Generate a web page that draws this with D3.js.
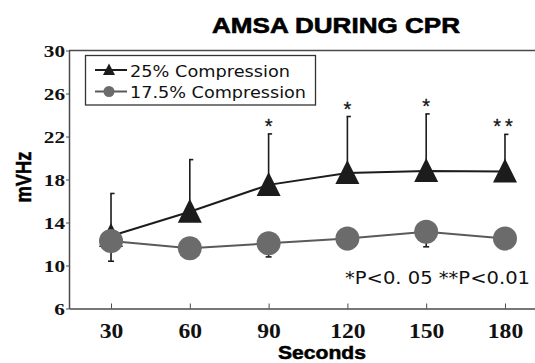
<!DOCTYPE html>
<html>
<head>
<meta charset="utf-8">
<script src="https://cdn.jsdelivr.net/npm/d3@7"></script>
<style>
  html, body { margin: 0; padding: 0; background: #fff; }
  svg { display: block; }
</style>
</head>
<body>
<svg id="chart" width="535" height="363"></svg>
<script>
// --- Daten ---
const seconds      = [30, 60, 90, 120, 150, 180];
const comp25       = [12.75, 15.0, 17.5, 18.6, 18.8, 18.75];
const comp25Upper  = [16.7, 19.85, 22.24, 23.86, 24.1, 22.2];
const comp175      = [12.27, 11.6, 12.06, 12.52, 13.14, 12.52];
const comp175Lower = [10.4, 10.7, 10.8, 11.5, 11.74, 11.5];
const signif       = ['', '', '*', '*', '*', '**'];
const yTicks       = [6, 10, 14, 18, 22, 26, 30];
const legendLabels = ['25% Compression', '17.5% Compression'];

const svg = d3.select('#chart');

const x = d3.scaleLinear().domain([14, 196]).range([69, 547]);
const y = d3.scaleLinear().domain([6, 30]).range([308.5, 50.5]);

const AXIS = '#4a4a4a';
const DARK = '#1c1c1c';
const GRAY = '#6b6b6b';
const SANS = '"Liberation Sans", Arial, sans-serif';
const WIDE = '"DejaVu Sans", Verdana, sans-serif';
const SERIF = '"Liberation Serif", "Times New Roman", serif';

// Rahmen (oben + rechts)
svg.append('path')
  .attr('d', `M${x.range()[0]},${y(30)}H${x.range()[1]}V${y(6)}`)
  .attr('fill', 'none')
  .attr('stroke', AXIS)
  .attr('stroke-width', 1.5);

// --- Y-Achse ---
const yAxis = svg.append('g')
  .attr('transform', `translate(${x.range()[0]},0)`)
  .call(d3.axisLeft(y).tickValues(yTicks).tickSize(3).tickSizeOuter(0));
yAxis.select('.domain').attr('stroke', AXIS).attr('stroke-width', 1.5);
yAxis.selectAll('line').attr('stroke', AXIS);
yAxis.selectAll('text')
  .attr('x', 0).attr('dy', '0.34em')
  .attr('transform', 'translate(-4,0) scale(1.25,1)')
  .attr('font-family', SERIF)
  .attr('font-weight', 'bold')
  .attr('font-size', 17)
  .attr('fill', '#111');

// --- X-Achse ---
const xAxis = svg.append('g')
  .attr('transform', `translate(0,${y(6)})`)
  .call(d3.axisBottom(x).tickValues(seconds).tickSize(-5).tickSizeOuter(0));
xAxis.select('.domain').attr('stroke', AXIS).attr('stroke-width', 1.5);
xAxis.selectAll('line').attr('stroke', AXIS);
xAxis.selectAll('text')
  .attr('y', 0).attr('dy', 0)
  .attr('transform', 'translate(0,29) scale(1.18,1)')
  .attr('font-family', SERIF)
  .attr('font-weight', 'bold')
  .attr('font-size', 20)
  .attr('fill', '#111');

// --- Titel & Achsentitel ---
svg.append('text')
  .attr('x', 336).attr('y', 33)
  .attr('text-anchor', 'middle')
  .attr('font-family', SANS)
  .attr('font-weight', 'bold')
  .attr('font-size', 22)
  .attr('stroke', '#000').attr('stroke-width', 0.6)
  .attr('textLength', 248).attr('lengthAdjust', 'spacingAndGlyphs')
  .text('AMSA DURING CPR');

svg.append('text')
  .attr('transform', 'translate(31,177) rotate(-90)')
  .attr('text-anchor', 'middle')
  .attr('font-family', SANS)
  .attr('font-weight', 'bold')
  .attr('font-size', 22)
  .attr('stroke', '#000').attr('stroke-width', 0.5)
  .attr('textLength', 51).attr('lengthAdjust', 'spacingAndGlyphs')
  .text('mVHz');

svg.append('text')
  .attr('x', 322).attr('y', 358.5)
  .attr('text-anchor', 'middle')
  .attr('font-family', SANS)
  .attr('font-weight', 'bold')
  .attr('font-size', 18)
  .attr('stroke', '#000').attr('stroke-width', 0.5)
  .attr('textLength', 88).attr('lengthAdjust', 'spacingAndGlyphs')
  .text('Seconds');

// --- Fehlerbalken ---
const bars = svg.append('g');
seconds.forEach((s, i) => {
  const cx = x(s);
  // 25%: nur nach oben
  bars.append('line')
    .attr('x1', cx).attr('x2', cx)
    .attr('y1', y(comp25[i])).attr('y2', y(comp25Upper[i]))
    .attr('stroke', DARK).attr('stroke-width', 1.6);
  bars.append('line')
    .attr('x1', cx - 0.8).attr('x2', cx + 3.5)
    .attr('y1', y(comp25Upper[i])).attr('y2', y(comp25Upper[i]))
    .attr('stroke', DARK).attr('stroke-width', 1.6);
  // 17.5%: nur nach unten
  bars.append('line')
    .attr('x1', cx).attr('x2', cx)
    .attr('y1', y(comp175[i])).attr('y2', y(comp175Lower[i]))
    .attr('stroke', DARK).attr('stroke-width', 1.6);
  bars.append('line')
    .attr('x1', cx - 3).attr('x2', cx + 3)
    .attr('y1', y(comp175Lower[i])).attr('y2', y(comp175Lower[i]))
    .attr('stroke', DARK).attr('stroke-width', 1.6);
});

// --- Linien ---
const line = d3.line().x((d, i) => x(seconds[i])).y(d => y(d));

svg.append('path')
  .datum(comp175)
  .attr('d', line)
  .attr('fill', 'none')
  .attr('stroke', '#5a5a5a')
  .attr('stroke-width', 2);

svg.append('path')
  .datum(comp25)
  .attr('d', line)
  .attr('fill', 'none')
  .attr('stroke', DARK)
  .attr('stroke-width', 2);

// Dreiecke
const triPath = (w, up, down) => `M0,${-up}L${w},${down}L${-w},${down}Z`;
svg.append('g').selectAll('path')
  .data(comp25)
  .enter()
  .append('path')
  .attr('transform', (d, i) => `translate(${x(seconds[i])},${y(d)})`)
  .attr('d', triPath(12, 13, 11))
  .attr('fill', DARK);

// Kreise
svg.append('g').selectAll('circle')
  .data(comp175)
  .enter()
  .append('circle')
  .attr('cx', (d, i) => x(seconds[i]))
  .attr('cy', d => y(d))
  .attr('r', 12)
  .attr('fill', GRAY);

// Signifikanz-Sterne
svg.append('g').selectAll('text')
  .data(signif)
  .enter()
  .append('text')
  .attr('x', (d, i) => x(seconds[i]))
  .attr('y', (d, i) => y(comp25Upper[i]) - 1)
  .attr('text-anchor', 'middle')
  .attr('font-family', SANS)
  .attr('font-size', 20)
  .attr('stroke', '#111').attr('stroke-width', 0.3)
  .attr('letter-spacing', d => d.length > 1 ? 4 : 0)
  .attr('fill', '#111')
  .text(d => d);

// --- Legende ---
const legend = svg.append('g');
legend.append('rect')
  .attr('x', 85.5).attr('y', 55.5)
  .attr('width', 230).attr('height', 49.5)
  .attr('fill', '#fff')
  .attr('stroke', '#333')
  .attr('stroke-width', 1.3);

const legendRows = [
  { y: 70, color: DARK, widths: 160, base: 76.5 },
  { y: 91.5, color: '#5a5a5a', widths: 176, base: 98 }
];
legendRows.forEach((r, i) => {
  legend.append('line')
    .attr('x1', 95).attr('x2', 127)
    .attr('y1', r.y).attr('y2', r.y)
    .attr('stroke', r.color).attr('stroke-width', 2);
  if (i === 0) {
    legend.append('path')
      .attr('transform', `translate(109,${r.y})`)
      .attr('d', triPath(6, 6.5, 5))
      .attr('fill', DARK);
  } else {
    legend.append('circle')
      .attr('cx', 109).attr('cy', r.y).attr('r', 5.5)
      .attr('fill', GRAY);
  }
  legend.append('text')
    .attr('x', 130).attr('y', r.base)
    .attr('font-family', WIDE)
    .attr('font-size', 15.5)
    .attr('textLength', r.widths).attr('lengthAdjust', 'spacingAndGlyphs')
    .attr('fill', '#111')
    .text(legendLabels[i]);
});

// Anmerkung
svg.append('text')
  .attr('x', 345).attr('y', 283.5)
  .attr('font-family', WIDE)
  .attr('font-size', 18)
  .attr('textLength', 185).attr('lengthAdjust', 'spacingAndGlyphs')
  .attr('fill', '#111')
  .text('*P<0. 05 **P<0.01');
</script>
</body>
</html>
